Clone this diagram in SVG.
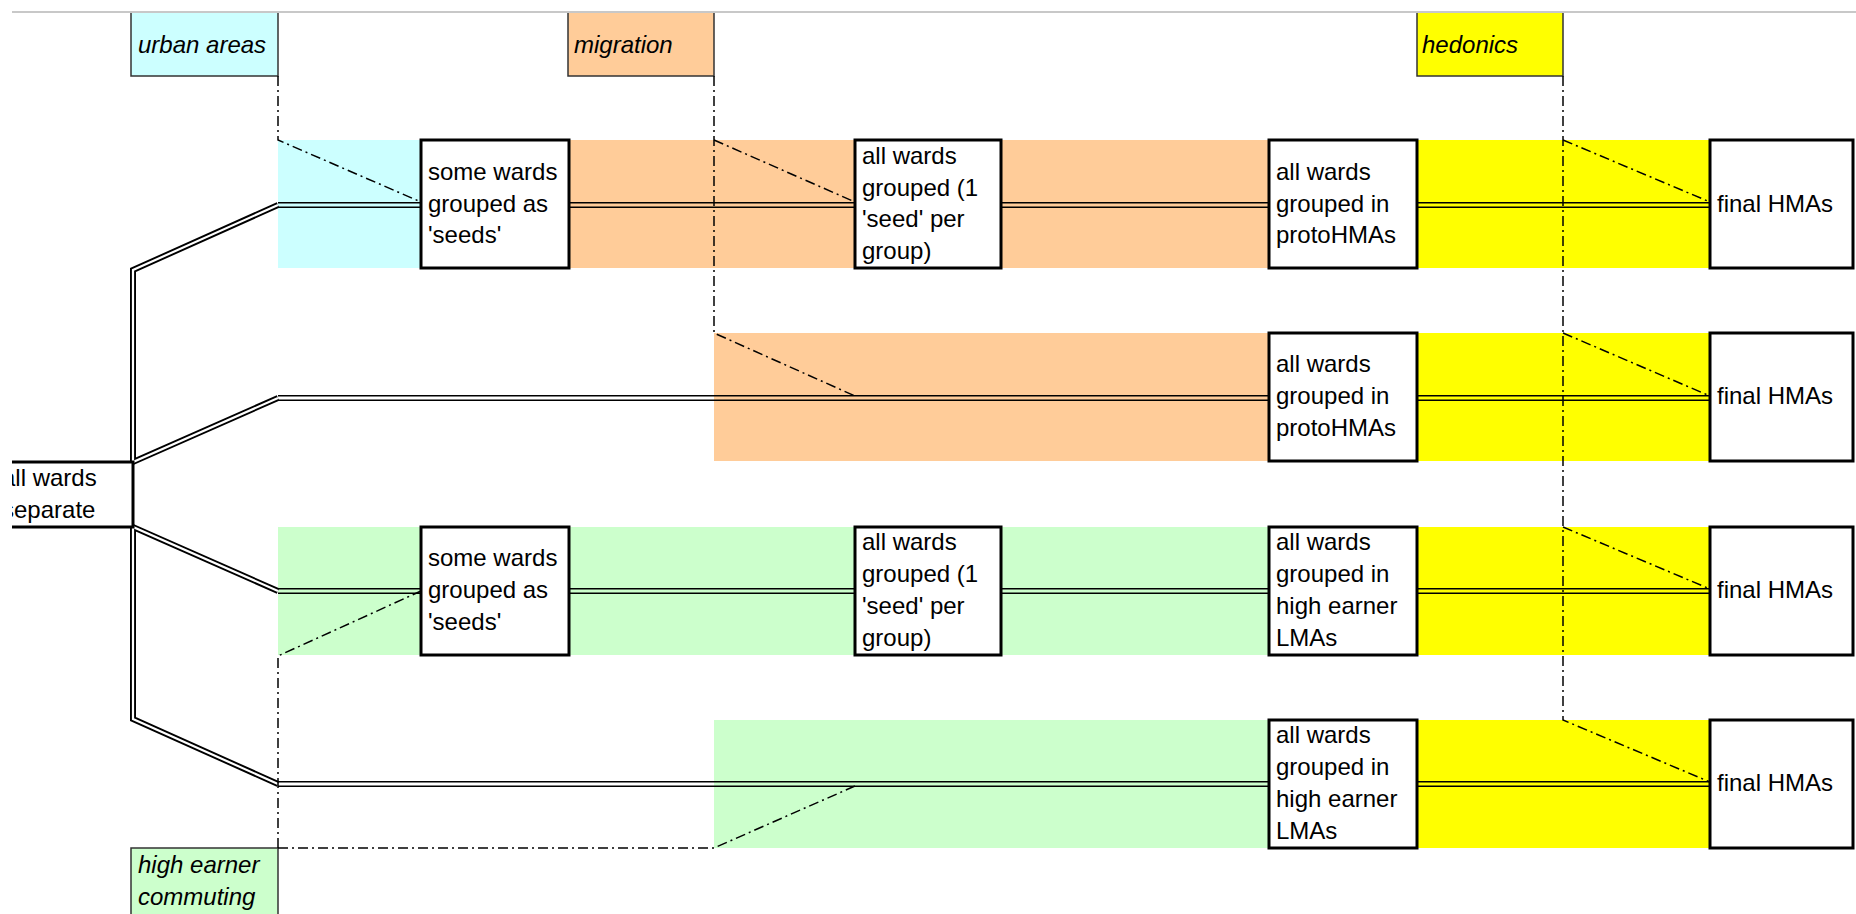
<svg xmlns="http://www.w3.org/2000/svg" width="1856" height="914" viewBox="0 0 1856 914">
<style>
.lbl{stroke:#333;stroke-width:1.5}
.lt{font-family:"Liberation Sans",Arial,sans-serif;font-size:24px;font-style:italic;fill:#000}
.nt{font-family:"Liberation Sans",Arial,sans-serif;font-size:24px;fill:#000}
.box{fill:#fff;stroke:#000;stroke-width:3}
.dd{fill:none;stroke:#000;stroke-width:1.5;stroke-dasharray:10 4 2 4}
.dl{fill:none;stroke:#000;stroke-width:1.6}
.bo{fill:none;stroke:#000;stroke-width:6}
.bi{fill:none;stroke:#fff;stroke-width:2.2}
.cy{fill:#ccffff}.or{fill:#ffcc99}.ye{fill:#ffff00}.gr{fill:#ccffcc}
</style>
<defs>
<clipPath id="clipL"><rect x="12" y="0" width="1844" height="914"/></clipPath>
</defs>
<rect x="0" y="0" width="1856" height="914" fill="#fff"/>
<g id="bands">
<rect class="cy" x="278" y="140" width="143" height="128"/>
<rect class="or" x="569" y="140" width="700" height="128"/>
<rect class="ye" x="1417" y="140" width="293" height="128"/>
<rect class="or" x="714" y="333" width="555" height="128"/>
<rect class="ye" x="1417" y="333" width="293" height="128"/>
<rect class="gr" x="278" y="527" width="991" height="128"/>
<rect class="ye" x="1417" y="527" width="293" height="128"/>
<rect class="gr" x="714" y="720" width="555" height="128"/>
<rect class="ye" x="1417" y="720" width="293" height="128"/>
</g>
<g id="label-urban"><rect class="lbl cy" x="131" y="12" width="147" height="64"/><text class="lt" x="138" y="53">urban areas</text></g>
<g id="label-migration"><rect class="lbl or" x="568" y="12" width="146" height="64"/><text class="lt" x="574" y="53">migration</text></g>
<g id="label-hedonics"><rect class="lbl ye" x="1417" y="12" width="146" height="64"/><text class="lt" x="1422" y="53">hedonics</text></g>
<g id="label-commuting"><rect class="lbl gr" x="131" y="848" width="147" height="68"/><text class="lt" x="138" y="873">high earner</text><text class="lt" x="138" y="905">commuting</text></g>
<line x1="12" y1="12" x2="1856" y2="12" stroke="#c8c8c8" stroke-width="2"/>
<g id="connectors">
<path class="bo" d="M278,205 L133,270 L133,462 L278,398"/>
<path class="bi" d="M278,205 L133,270 L133,462 L278,398"/>
<path class="bo" d="M278,591 L133,527 L133,719 L278,784"/>
<path class="bi" d="M278,591 L133,527 L133,719 L278,784"/>
<path class="dl" d="M278,202.8H421M569,202.8H855M1001,202.8H1269M1417,202.8H1710M278,207.2H421M569,207.2H855M1001,207.2H1269M1417,207.2H1710"/>
<path class="dl" d="M278,395.8H1269M1417,395.8H1710M278,400.2H1269M1417,400.2H1710"/>
<path class="dl" d="M278,588.8H421M569,588.8H855M1001,588.8H1269M1417,588.8H1710M278,593.2H421M569,593.2H855M1001,593.2H1269M1417,593.2H1710"/>
<path class="dl" d="M278,781.8H1269M1417,781.8H1710M278,786.2H1269M1417,786.2H1710"/>
<path class="dd" d="M278,76V140L421,202"/>
<path class="dd" d="M714,76V333L855,396"/>
<path class="dd" d="M714,140L855,202"/>
<path class="dd" d="M1563,76V720L1710,782"/>
<path class="dd" d="M1563,140L1710,202"/>
<path class="dd" d="M1563,333L1710,396"/>
<path class="dd" d="M1563,527L1710,589"/>
<path class="dd" d="M278,848V656L421,591"/>
<path class="dd" d="M278,848H714L855,786"/>
</g>
<g id="node-start" clip-path="url(#clipL)"><rect class="box" x="-10" y="462" width="143" height="65"/><text class="nt" x="2" y="486">all wards</text><text class="nt" x="2" y="517.5">separate</text></g>
<g id="n1a"><rect class="box" x="421" y="140" width="148" height="128"/><text class="nt" x="428" y="180">some wards</text><text class="nt" x="428" y="211.5">grouped as</text><text class="nt" x="428" y="243">'seeds'</text></g>
<g id="n1b"><rect class="box" x="855" y="140" width="146" height="128"/><text class="nt" x="862" y="164">all wards</text><text class="nt" x="862" y="195.6">grouped (1</text><text class="nt" x="862" y="227.4">'seed' per</text><text class="nt" x="862" y="259">group)</text></g>
<g id="n1c"><rect class="box" x="1269" y="140" width="148" height="128"/><text class="nt" x="1276" y="180">all wards</text><text class="nt" x="1276" y="211.5">grouped in</text><text class="nt" x="1276" y="243">protoHMAs</text></g>
<g id="n1d"><rect class="box" x="1710" y="140" width="143" height="128"/><text class="nt" x="1717" y="211.5">final HMAs</text></g>
<g id="n2c"><rect class="box" x="1269" y="333" width="148" height="128"/><text class="nt" x="1276" y="372.3">all wards</text><text class="nt" x="1276" y="404">grouped in</text><text class="nt" x="1276" y="435.7">protoHMAs</text></g>
<g id="n2d"><rect class="box" x="1710" y="333" width="143" height="128"/><text class="nt" x="1717" y="404">final HMAs</text></g>
<g id="n3a"><rect class="box" x="421" y="527" width="148" height="128"/><text class="nt" x="428" y="566.3">some wards</text><text class="nt" x="428" y="598">grouped as</text><text class="nt" x="428" y="629.7">'seeds'</text></g>
<g id="n3b"><rect class="box" x="855" y="527" width="146" height="128"/><text class="nt" x="862" y="550.4">all wards</text><text class="nt" x="862" y="582.1">grouped (1</text><text class="nt" x="862" y="613.9">'seed' per</text><text class="nt" x="862" y="645.6">group)</text></g>
<g id="n3c"><rect class="box" x="1269" y="527" width="148" height="128"/><text class="nt" x="1276" y="550.4">all wards</text><text class="nt" x="1276" y="582.1">grouped in</text><text class="nt" x="1276" y="613.9">high earner</text><text class="nt" x="1276" y="645.6">LMAs</text></g>
<g id="n3d"><rect class="box" x="1710" y="527" width="143" height="128"/><text class="nt" x="1717" y="598">final HMAs</text></g>
<g id="n4c"><rect class="box" x="1269" y="720" width="148" height="128"/><text class="nt" x="1276" y="743.4">all wards</text><text class="nt" x="1276" y="775.1">grouped in</text><text class="nt" x="1276" y="806.9">high earner</text><text class="nt" x="1276" y="838.6">LMAs</text></g>
<g id="n4d"><rect class="box" x="1710" y="720" width="143" height="128"/><text class="nt" x="1717" y="791">final HMAs</text></g>
</svg>
